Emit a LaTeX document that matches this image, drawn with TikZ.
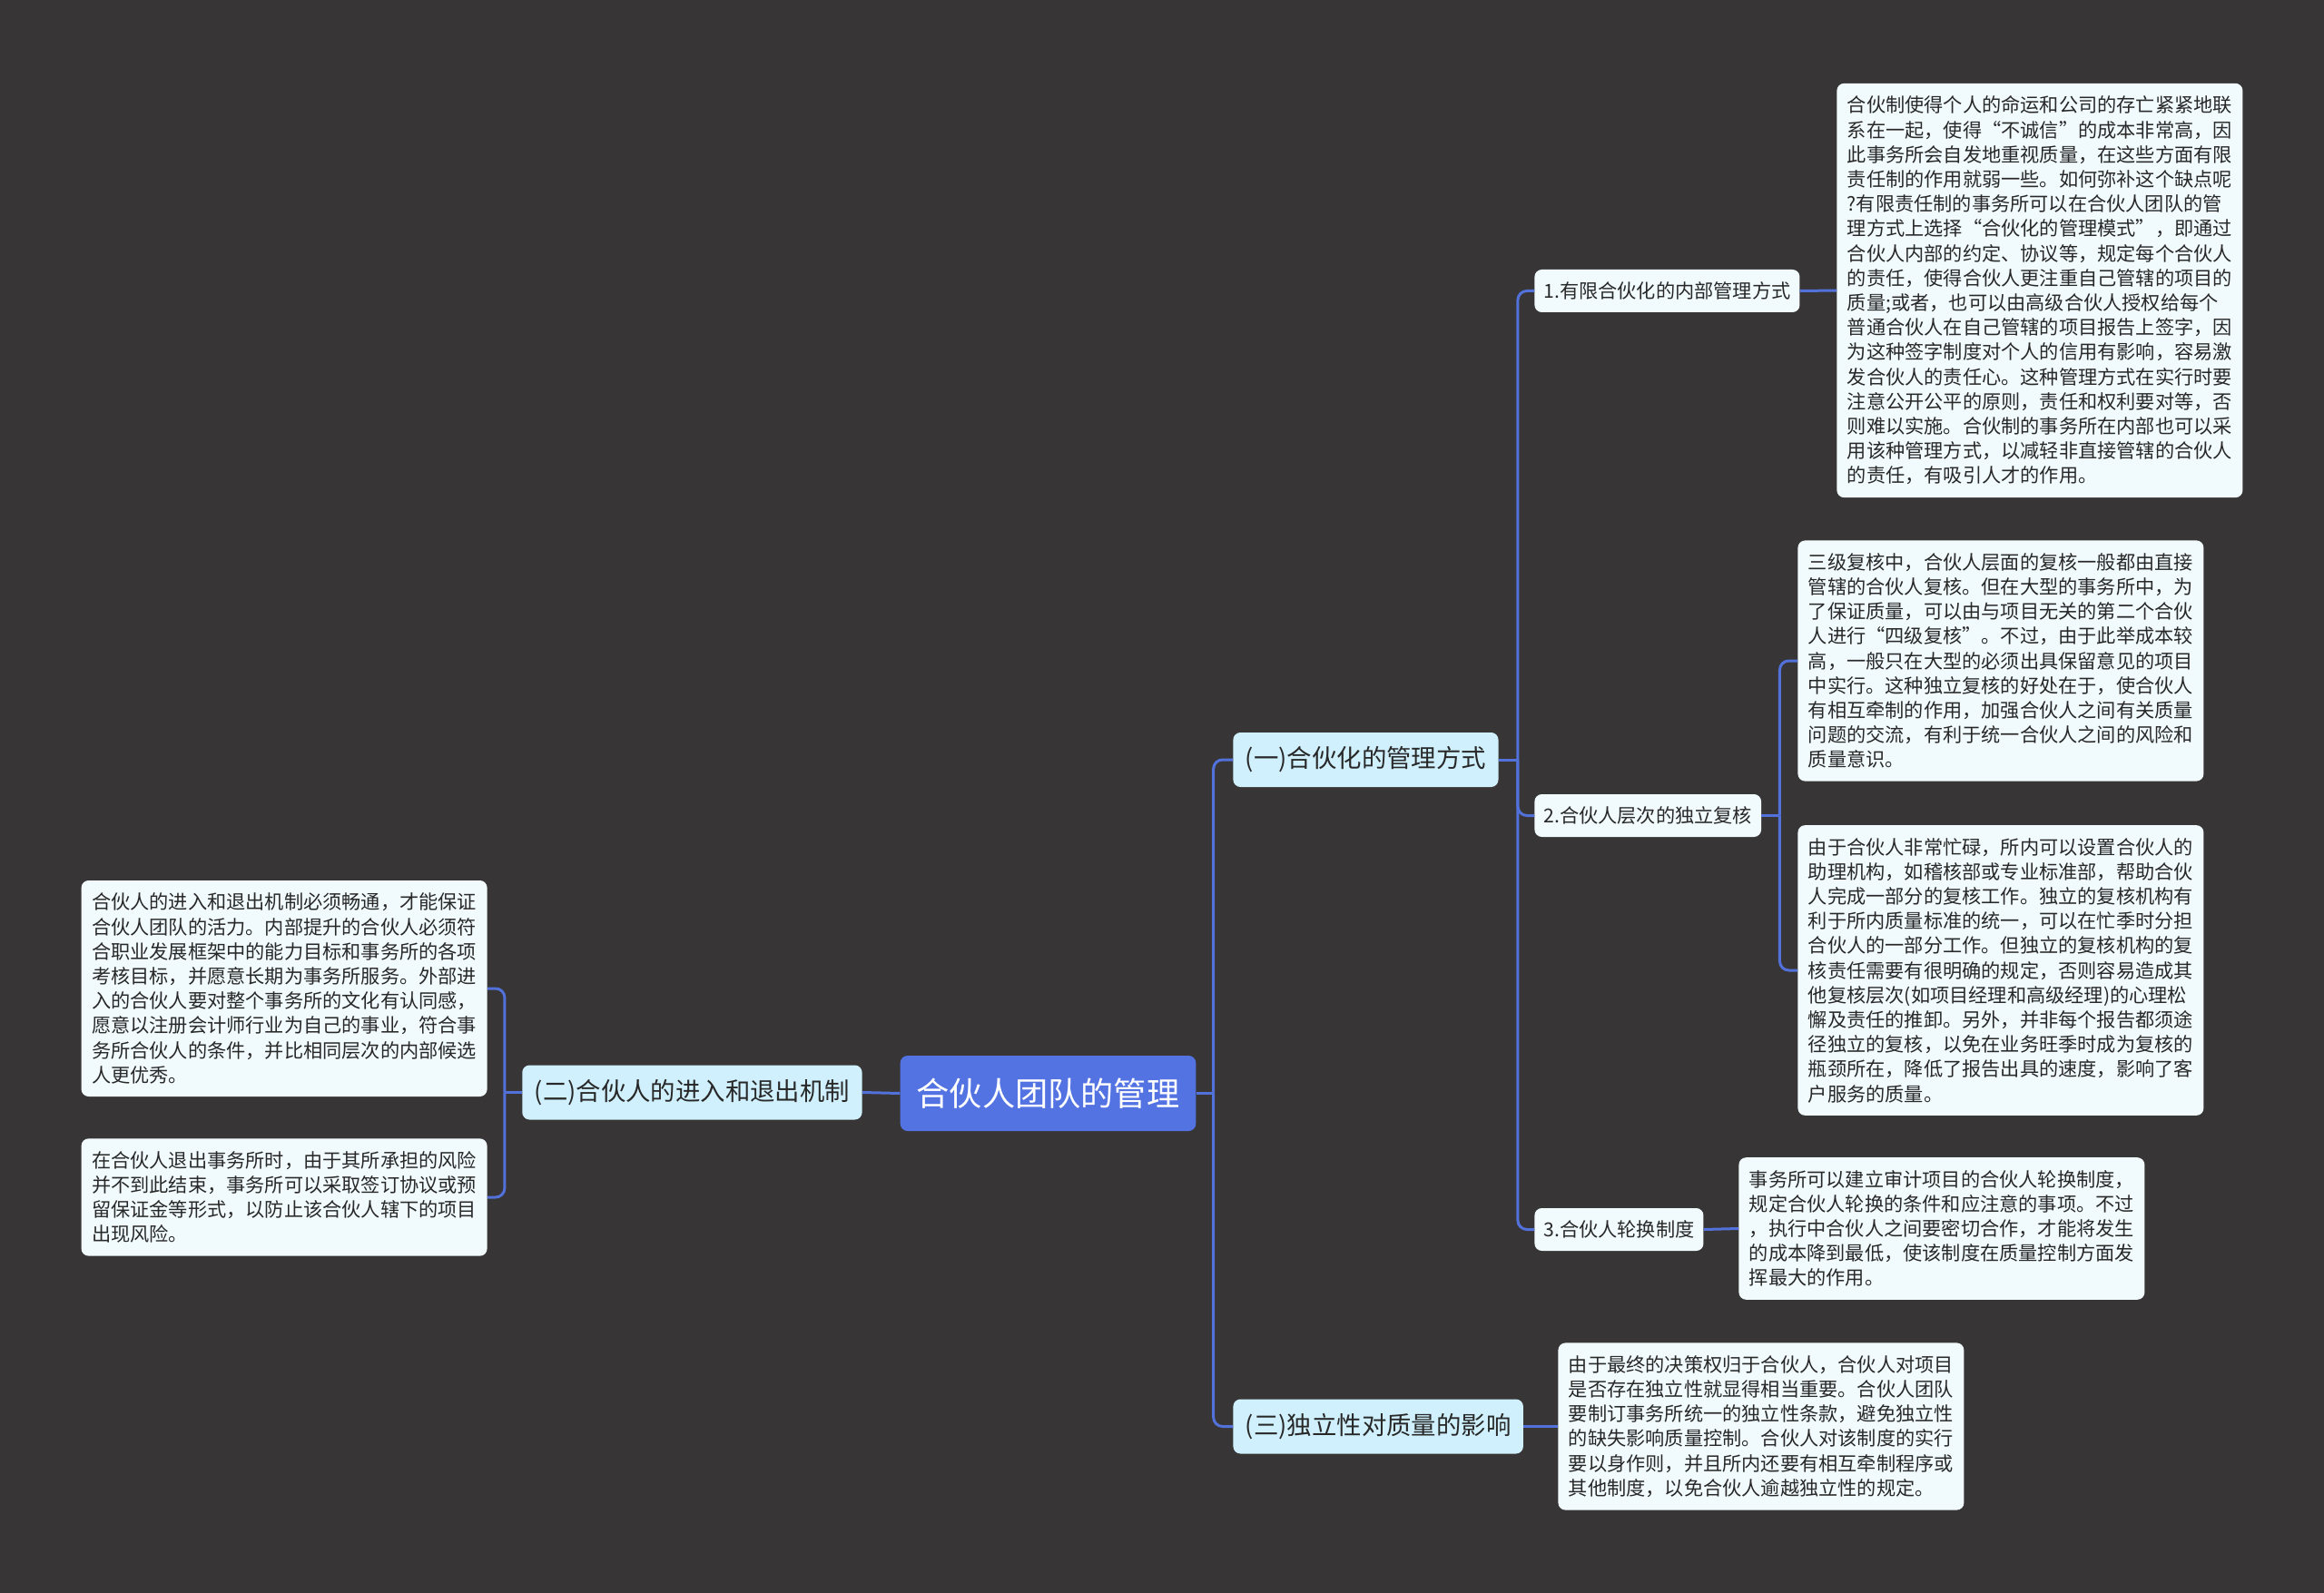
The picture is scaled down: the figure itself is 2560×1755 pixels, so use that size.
\documentclass[tikz,border=0pt]{standalone}
\usepackage{fontspec}
\setmainfont{Noto Sans CJK SC}
\definecolor{canvas}{RGB}{55,53,54}
\definecolor{linkblue}{RGB}{82,113,218}
\definecolor{rootblue}{RGB}{83,115,227}
\definecolor{topicfill}{RGB}{207,240,252}
\definecolor{notefill}{RGB}{241,251,254}
\definecolor{inktext}{RGB}{40,40,40}
\begin{document}
\begin{tikzpicture}[
  x = 0.5pt, y = -0.5pt,
  every node/.style = {text=inktext, inner sep=0pt},
  root/.style  = {rectangle, rounded corners=4pt, fill=rootblue, text=white,
                  font=\fontsize{18.1}{22}\selectfont, minimum height=41.5pt, inner xsep=9pt},
  topic/.style = {rectangle, rounded corners=4pt, fill=topicfill,
                  font=\fontsize{13.7}{16}\selectfont, minimum height=30pt, inner xsep=6.75pt},
  sub/.style   = {rectangle, rounded corners=4pt, fill=notefill,
                  font=\fontsize{10.6}{13}\selectfont, minimum height=23.5pt, inner xsep=5pt},
  note/.style  = {rectangle, rounded corners=4pt, fill=notefill, align=left,
                  font=\fontsize{10.6}{13.6}\selectfont, text width=212pt,
                  inner xsep=5.75pt, inner ysep=7pt},
  link/.style  = {draw=linkblue, line width=1.5pt, rounded corners=5pt},
]
\useasboundingbox (0,0) rectangle (2560,1755);
\fill[canvas] (0,0) rectangle (2560,1755);

\node[root] (mgmt) at (1154.5,1204.5) {合伙人团队的管理};

% --- Right side ---------------------------------------------------------
\node[topic, anchor=west] (way)   at (1358,837)    {(一)合伙化的管理方式};
\node[topic, anchor=west] (indep) at (1358,1571.5) {(三)独立性对质量的影响};
\draw[link] (mgmt.east) -- ++(19,0) coordinate (rtrunk);
\draw[link] (rtrunk) |- (way.west);
\draw[link] (rtrunk) |- (indep.west);

\node[sub, anchor=west] (limit)  at (1690,320.5)  {1.有限合伙化的内部管理方式};
\node[sub, anchor=west] (review) at (1690,898.5)  {2.合伙人层次的独立复核};
\node[sub, anchor=west] (rotate) at (1690,1354.5) {3.合伙人轮换制度};
\draw[link] (way.east) -- ++(21,0) coordinate (waytrunk);
\draw[link] (waytrunk) |- (limit.west);
\draw[link] (waytrunk) |- (review.west);
\draw[link] (waytrunk) |- (rotate.west);

\node[note, anchor=west] (limitnote) at (2023,320) {合伙制使得个人的命运和公司的存亡紧紧地联\\
系在一起，使得“不诚信”的成本非常高，因\\
此事务所会自发地重视质量，在这些方面有限\\
责任制的作用就弱一些。如何弥补这个缺点呢\\
?有限责任制的事务所可以在合伙人团队的管\\
理方式上选择“合伙化的管理模式”，即通过\\
合伙人内部的约定、协议等，规定每个合伙人\\
的责任，使得合伙人更注重自己管辖的项目的\\
质量;或者，也可以由高级合伙人授权给每个\\
普通合伙人在自己管辖的项目报告上签字，因\\
为这种签字制度对个人的信用有影响，容易激\\
发合伙人的责任心。这种管理方式在实行时要\\
注意公开公平的原则，责任和权利要对等，否\\
则难以实施。合伙制的事务所在内部也可以采\\
用该种管理方式，以减轻非直接管辖的合伙人\\
的责任，有吸引人才的作用。};
\draw[link] (limit.east) -- (limitnote.west);

\node[note, anchor=west] (reviewa) at (1980,728) {三级复核中，合伙人层面的复核一般都由直接\\
管辖的合伙人复核。但在大型的事务所中，为\\
了保证质量，可以由与项目无关的第二个合伙\\
人进行“四级复核”。不过，由于此举成本较\\
高，一般只在大型的必须出具保留意见的项目\\
中实行。这种独立复核的好处在于，使合伙人\\
有相互牵制的作用，加强合伙人之间有关质量\\
问题的交流，有利于统一合伙人之间的风险和\\
质量意识。};
\node[note, anchor=west] (reviewb) at (1980,1069) {由于合伙人非常忙碌，所内可以设置合伙人的\\
助理机构，如稽核部或专业标准部，帮助合伙\\
人完成一部分的复核工作。独立的复核机构有\\
利于所内质量标准的统一，可以在忙季时分担\\
合伙人的一部分工作。但独立的复核机构的复\\
核责任需要有很明确的规定，否则容易造成其\\
他复核层次(如项目经理和高级经理)的心理松\\
懈及责任的推卸。另外，并非每个报告都须途\\
径独立的复核，以免在业务旺季时成为复核的\\
瓶颈所在，降低了报告出具的速度，影响了客\\
户服务的质量。};
\draw[link] (review.east) -- ++(20,0) coordinate (reviewtrunk);
\draw[link] (reviewtrunk) |- (reviewa.west);
\draw[link] (reviewtrunk) |- (reviewb.west);

\node[note, anchor=west] (rotatenote) at (1915,1353.5) {事务所可以建立审计项目的合伙人轮换制度，\\
规定合伙人轮换的条件和应注意的事项。不过\\
，执行中合伙人之间要密切合作，才能将发生\\
的成本降到最低，使该制度在质量控制方面发\\
挥最大的作用。};
\draw[link] (rotate.east) -- (rotatenote.west);

\node[note, anchor=west] (indepnote) at (1716,1571.5) {由于最终的决策权归于合伙人，合伙人对项目\\
是否存在独立性就显得相当重要。合伙人团队\\
要制订事务所统一的独立性条款，避免独立性\\
的缺失影响质量控制。合伙人对该制度的实行\\
要以身作则，并且所内还要有相互牵制程序或\\
其他制度，以免合伙人逾越独立性的规定。};
\draw[link] (indep.east) -- (indepnote.west);

% --- Left side ----------------------------------------------------------
\node[topic, anchor=east] (entry) at (950,1203.5) {(二)合伙人的进入和退出机制};
\draw[link] (mgmt.west) -- (entry.east);

\node[note, anchor=east] (entrya) at (537,1089) {合伙人的进入和退出机制必须畅通，才能保证\\
合伙人团队的活力。内部提升的合伙人必须符\\
合职业发展框架中的能力目标和事务所的各项\\
考核目标，并愿意长期为事务所服务。外部进\\
入的合伙人要对整个事务所的文化有认同感，\\
愿意以注册会计师行业为自己的事业，符合事\\
务所合伙人的条件，并比相同层次的内部候选\\
人更优秀。};
\node[note, anchor=east] (entryb) at (537,1319) {在合伙人退出事务所时，由于其所承担的风险\\
并不到此结束，事务所可以采取签订协议或预\\
留保证金等形式，以防止该合伙人辖下的项目\\
出现风险。};
\draw[link] (entry.west) -- ++(-19,0) coordinate (entrytrunk);
\draw[link] (entrytrunk) |- (entrya.east);
\draw[link] (entrytrunk) |- (entryb.east);

\end{tikzpicture}
\end{document}
